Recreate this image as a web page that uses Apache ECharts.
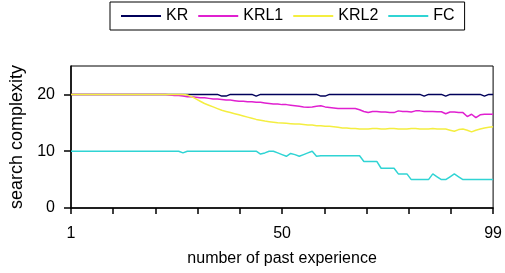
<!DOCTYPE html>
<html>
<head>
<meta charset="utf-8">
<script src="https://cdn.jsdelivr.net/npm/echarts@6/dist/echarts.min.js"></script>
<style>
html, body { margin: 0; padding: 0; background: #fff; }
#chart { width: 505px; height: 273px; }
</style>
</head>
<body>
<div id="chart"></div>
<script>
// 图例名称
var seriesNames = ['KR', 'KRL1', 'KRL2', 'FC']

// 各条曲线的取值（第 1 到 99 次经验）
var krValues = [
	20, 20, 20, 20, 20, 20, 20, 20, 20, 20,
	20, 20, 20, 20, 20, 20, 20, 20, 20, 20,
	20, 20, 20, 20, 20, 20, 20, 20, 20, 20,
	20, 20, 20, 20, 20, 19.7, 19.7, 20, 20, 20,
	20, 20, 20, 19.7, 20, 20, 20, 20, 20, 20,
	20, 20, 20, 20, 20, 20, 20, 20, 19.7, 19.7,
	20, 20, 20, 20, 20, 20, 20, 20, 20, 20,
	20, 20, 20, 20, 20, 20, 20, 20, 20, 20,
	20, 20, 19.7, 20, 20, 20, 20, 19.7, 20, 20,
	20, 20, 20, 20, 20, 20, 19.7, 20, 20
]
var krl1Values = [
	20, 20, 20, 20, 20, 20, 20, 20, 20, 20,
	20, 20, 20, 20, 20, 20, 20, 20, 20, 20,
	20, 20, 20, 19.9, 19.8, 19.8, 19.7, 19.6, 19.6, 19.5,
	19.4, 19.4, 19.3, 19.2, 19.2, 19.1, 19.0, 19.0, 18.9, 18.8,
	18.8, 18.7, 18.7, 18.6, 18.6, 18.5, 18.4, 18.3, 18.3, 18.2,
	18.2, 18.1, 18.0, 17.9, 17.8, 17.75, 17.8, 17.9, 18.0, 17.8,
	17.7, 17.6, 17.5, 17.5, 17.5, 17.5, 17.5, 17.3, 17.0, 16.8,
	17.0, 17.0, 16.9, 16.9, 16.8, 16.8, 17.1, 17.0, 17.0, 16.9,
	17.1, 17.1, 17.0, 17.0, 17.0, 16.95, 16.95, 16.6, 16.9, 16.9,
	16.8, 16.8, 16.1, 16.5, 15.9, 16.4, 16.5, 16.5, 16.5
]
var krl2Values = [
	20, 20, 20, 20, 20, 20, 20, 20, 20, 20,
	20, 20, 20, 20, 20, 20, 20, 20, 20, 20,
	20, 20, 20, 20, 20, 20, 20, 19.9, 19.6, 19.2,
	18.8, 18.4, 18.1, 17.8, 17.5, 17.2, 17.0, 16.8, 16.6, 16.4,
	16.2, 16.0, 15.8, 15.6, 15.45, 15.3, 15.2, 15.1, 15.0, 14.95,
	14.9, 14.85, 14.8, 14.8, 14.7, 14.6, 14.6, 14.5, 14.5, 14.4,
	14.4, 14.3, 14.2, 14.1, 14.1, 14.0, 14.0, 13.9, 13.9, 13.9,
	14.0, 14.0, 13.9, 13.9, 14.0, 14.0, 13.9, 13.9, 13.9, 14.0,
	14.0, 13.9, 13.9, 13.9, 14.0, 13.9, 13.9, 13.9, 13.7, 13.5,
	13.8, 13.9, 13.7, 13.4, 13.7, 13.9, 14.1, 14.2, 14.3
]
var fcValues = [
	10, 10, 10, 10, 10, 10, 10, 10, 10, 10,
	10, 10, 10, 10, 10, 10, 10, 10, 10, 10,
	10, 10, 10, 10, 10, 10, 9.7, 10, 10, 10,
	10, 10, 10, 10, 10, 10, 10, 10, 10, 10,
	10, 10, 10, 10, 9.5, 9.7, 10, 10, 9.7, 9.4,
	9.1, 9.6, 9.4, 9.1, 9.4, 9.7, 10, 9.1, 9.2, 9.2,
	9.2, 9.2, 9.2, 9.2, 9.2, 9.2, 9.2, 9.2, 8.2, 8.2,
	8.2, 8.2, 7.0, 7.0, 7.0, 7.0, 6.0, 6.0, 6.0, 5.0,
	5.0, 5.0, 5.0, 5.0, 6.0, 5.5, 5.0, 5.0, 5.5, 6.0,
	5.5, 5.0, 5.0, 5.0, 5.0, 5.0, 5.0, 5.0, 5.0
]

// 坐标轴标签
var xLabels = [1, 50, 99]
var yLabels = [0, 10, 20]

var colors = ['#00005a', '#e020d0', '#f4ee40', '#30d4d4']
var font = 'Liberation Sans, Arial, sans-serif'

function toPoints(values) {
	return values.map(function (v, i) {
		return [i + 1, v]
	})
}

var allValues = [krValues, krl1Values, krl2Values, fcValues]

var myChart = echarts.init(document.getElementById('chart'))
myChart.setOption({
	animation: false,
	textStyle: { fontFamily: font, color: '#000' },
	legend: {
		left: 110,
		top: 2,
		padding: [6, 10],
		itemWidth: 40,
		itemHeight: 14,
		itemGap: 9,
		borderColor: '#000',
		borderWidth: 1,
		itemStyle: { opacity: 0 },
		textStyle: { fontSize: 16, color: '#000', fontFamily: font },
		data: seriesNames,
	},
	grid: {
		left: 71,
		right: 7,
		top: 66,
		bottom: 65,
		show: true,
		borderColor: '#000',
		borderWidth: 1,
	},
	xAxis: {
		type: 'value',
		min: 1,
		max: 99,
		interval: 9.8,
		name: 'number of past experience',
		nameLocation: 'middle',
		nameGap: 43,
		nameTextStyle: { fontSize: 16, color: '#000', fontFamily: font },
		axisLine: { lineStyle: { color: '#000', width: 1.5 } },
		axisTick: { length: 6, lineStyle: { color: '#000', width: 1.5 } },
		axisLabel: {
			customValues: xLabels,
			margin: 18,
			fontSize: 16,
			color: '#000',
			fontFamily: font,
		},
		splitLine: { show: false },
	},
	yAxis: {
		type: 'value',
		min: 0,
		max: 25,
		interval: 10,
		name: 'search complexity',
		nameLocation: 'middle',
		nameGap: 44,
		nameTextStyle: { fontSize: 18, color: '#000', fontFamily: font },
		axisLine: { show: true, lineStyle: { color: '#000', width: 1.5 } },
		axisTick: { show: true, length: 7, customValues: yLabels, lineStyle: { color: '#000', width: 1.5 } },
		axisLabel: {
			customValues: yLabels,
			margin: 16,
			fontSize: 16,
			color: '#000',
			fontFamily: font,
		},
		splitLine: { show: false },
	},
	series: seriesNames.map(function (name, k) {
		return {
			name: name,
			type: 'line',
			symbol: 'none',
			data: toPoints(allValues[k]),
			lineStyle: { color: colors[k], width: 1.5 },
			itemStyle: { color: colors[k] },
		}
	}),
})
</script>
</body>
</html>
